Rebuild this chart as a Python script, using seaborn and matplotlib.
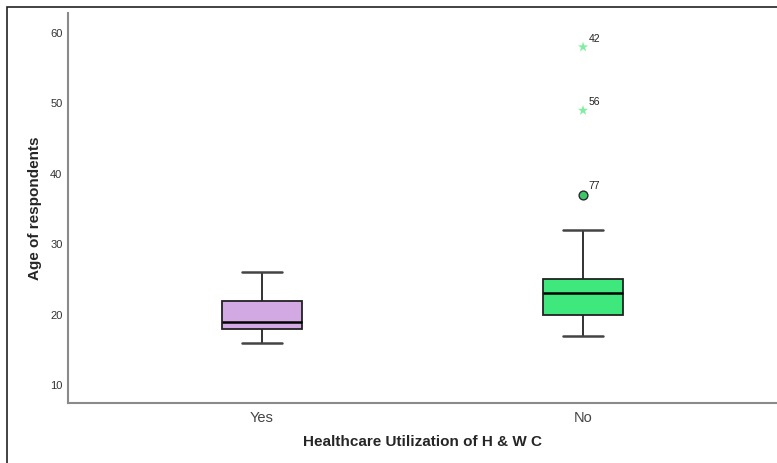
import matplotlib
matplotlib.use("Agg")
import matplotlib.pyplot as plt
import seaborn as sns
import pandas as pd
from matplotlib.patches import Rectangle

# Categories and values
groups = ["Yes", "No"]
yes_ages = [16, 18, 18, 19, 19, 20, 22, 22, 26]          # Q1=18, median=19, Q3=22, whiskers 16-26
no_ages = [17, 19, 19, 20, 21, 22, 23, 24, 24, 25, 26, 28, 32]  # Q1=20, median=23, Q3=25, whiskers 17-32

# Outliers of the "No" group (case numbers as labels)
outlier_ages = [37, 49, 58]
outlier_cases = ["77", "56", "42"]
outlier_kind = ["mild", "extreme", "extreme"]

box_colors = {"Yes": "#D2A9E2", "No": "#3EE87C"}

df = pd.DataFrame({
    "group": ["Yes"] * len(yes_ages) + ["No"] * len(no_ages),
    "age": yes_ages + no_ages,
})
out_df = pd.DataFrame({"group": ["No"] * len(outlier_ages), "age": outlier_ages,
                       "case": outlier_cases, "kind": outlier_kind})

sns.set_style("white")
plt.rcParams["font.family"] = ["Liberation Sans", "DejaVu Sans"]

fig = plt.figure(figsize=(7.77, 4.63), dpi=100)
ax = fig.add_axes([68 / 777, 1 - 403 / 463, 1 - 68 / 777, (403 - 13) / 463])

sns.boxplot(data=df, x="group", y="age", order=groups, hue="group", palette=box_colors,
            saturation=1, width=0.25, whis=1.5, showfliers=False, legend=False, ax=ax,
            linecolor="black", linewidth=1.3,
            medianprops={"color": "black", "linewidth": 1.8},
            capprops={"color": "#444444", "linewidth": 1.8},
            whiskerprops={"color": "#222222", "linewidth": 1.3})
for p in ax.patches:
    p.set_edgecolor("#222222")

# Outliers: circle for mild, star for extreme
mild = out_df[out_df["kind"] == "mild"]
extreme = out_df[out_df["kind"] == "extreme"]
sns.scatterplot(data=mild, x="group", y="age", marker="o", s=40, color="#3CC86A",
                edgecolor="#2a2a2a", linewidth=1, ax=ax, zorder=5)
sns.scatterplot(data=extreme, x="group", y="age", marker="*", s=60, color="#80EE9F",
                edgecolor="none", ax=ax, zorder=5)
for _, r in out_df.iterrows():
    ax.annotate(r["case"], (groups.index(r["group"]), r["age"]), xytext=(4, 4),
                textcoords="offset points", fontsize=7.5, color="#222222")

ax.set_xlim(-0.604, 1.604)
ax.set_ylim(7.44, 62.84)
ax.set_yticks([10, 20, 30, 40, 50, 60])
ax.tick_params(axis="y", labelsize=8, colors="#333333", length=0, pad=4)
ax.tick_params(axis="x", labelsize=10.5, colors="#444444", length=0, pad=6)

for side in ["top", "right"]:
    ax.spines[side].set_visible(False)
for side in ["left", "bottom"]:
    ax.spines[side].set_color("#8a8a8a")
    ax.spines[side].set_linewidth(1.5)

ax.set_xlabel("Healthcare Utilization of H & W C", fontsize=11, fontweight="bold", labelpad=7)
ax.set_ylabel("Age of respondents", fontsize=11, fontweight="bold", labelpad=6)

# outer frame of the exported chart
fig.patches.append(Rectangle((7 / 777, -0.05), 1.2, 1 - 7 / 463 + 0.05, transform=fig.transFigure,
                             fill=False, edgecolor="#222222", linewidth=1.2))

fig.savefig("out.png", dpi=100)
